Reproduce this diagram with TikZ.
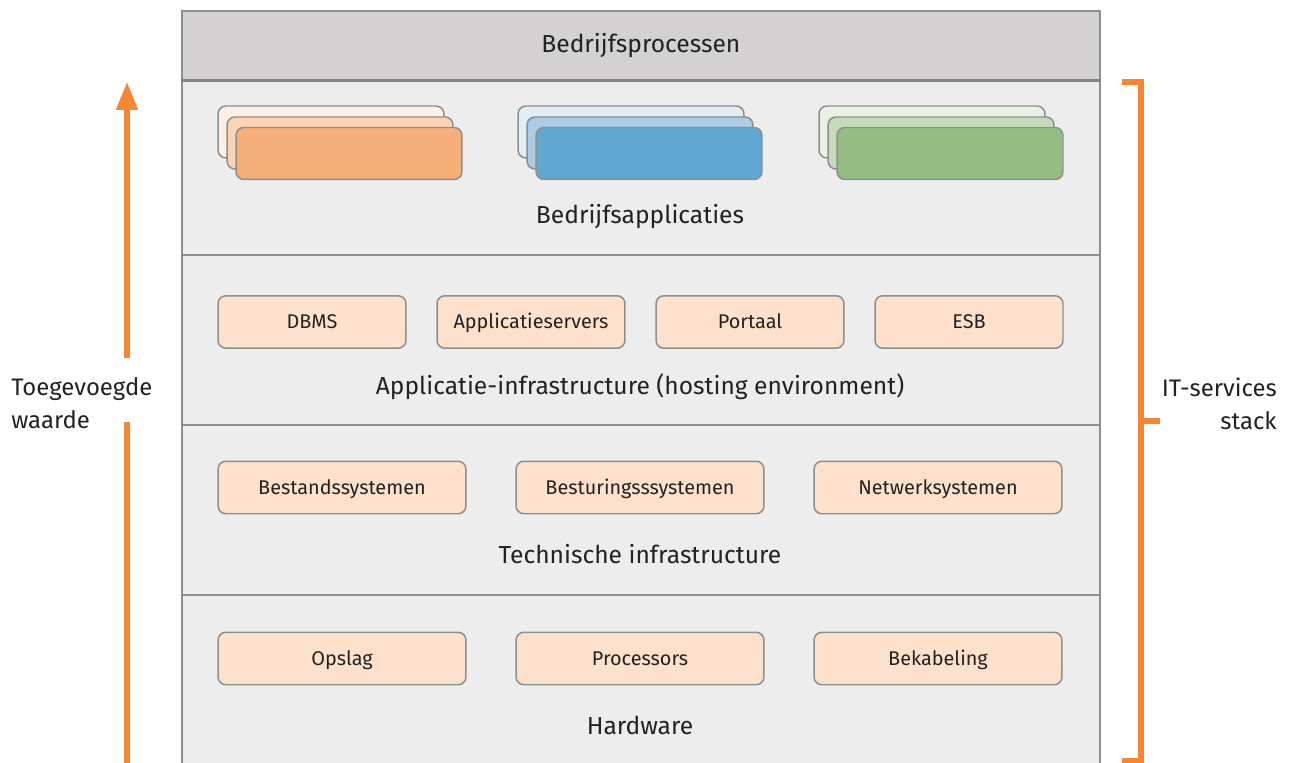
\documentclass[tikz,border=0pt]{standalone}
\usepackage{fontspec}
\setmainfont{Fira Sans}
\usepackage{tikz}
\usetikzlibrary{arrows.meta}
\definecolor{bandGray}{HTML}{D3D1D2}
\definecolor{layerGray}{HTML}{EDEDED}
\definecolor{lineGray}{HTML}{8E8E8E}
\definecolor{darkLine}{HTML}{858585}
\definecolor{boxFill}{HTML}{FDE1CC}
\definecolor{accent}{HTML}{F58634}
\definecolor{textDark}{HTML}{222222}
\definecolor{orangeA}{HTML}{FDEFE6}
\definecolor{orangeB}{HTML}{FDD3B5}
\definecolor{orangeC}{HTML}{F7AF7A}
\definecolor{blueA}{HTML}{E0EDF5}
\definecolor{blueB}{HTML}{AACCE4}
\definecolor{blueC}{HTML}{5FA8D1}
\definecolor{greenA}{HTML}{E9F1E4}
\definecolor{greenB}{HTML}{C6DBBA}
\definecolor{greenC}{HTML}{95BC83}
\tikzstyle{layerStyle}=[shape = rectangle, anchor = north west, inner sep = 0pt, minimum width = 18.36cm, fill = layerGray, draw = lineGray, line width = 1.1pt]
\tikzstyle{layerLabel}=[text = textDark, font = \fontsize{14}{16}\selectfont, inner sep = 0pt, text height = 1.6ex, text depth = 0.45ex]
\tikzstyle{compBox}=[shape = rectangle, rounded corners = 4.5pt, fill = boxFill, draw = lineGray, line width = 0.85pt, text = textDark, font = \fontsize{11.3}{13}\selectfont, minimum height = 1.05cm, inner sep = 0pt, text height = 1.6ex, text depth = 0.1ex]
\tikzstyle{appCard}=[shape = rectangle, rounded corners = 4.5pt, draw = lineGray, line width = 0.85pt, minimum width = 4.52cm, minimum height = 1.04cm, inner sep = 0pt]
\tikzstyle{sideText}=[text = textDark, font = \fontsize{13.6}{18.8}\selectfont, inner sep = 0pt]
\tikzstyle{orangeLine}=[draw = accent, line width = 2.9pt]

\begin{document}
\begin{tikzpicture}[x = 0.02cm, y = -0.02cm]
\clip (0,0) rectangle (1290,763);
\fill[white] (0,0) rectangle (1290,763);
\node[layerStyle, minimum height = 6.9cm] (hardware) at (181,594) {};
\node[layerStyle, minimum height = 3.4cm] (technisch) at (181,424) {};
\node[layerStyle, minimum height = 3.4cm] (applinfra) at (181,254) {};
\node[layerStyle, minimum height = 3.5cm] (apps) at (181,79) {};
\node[layerStyle, minimum height = 1.38cm, fill = bandGray, text = textDark, font = \fontsize{14}{16}\selectfont] (processen) at (181,10) {Bedrijfsprocessen};
\draw[draw = darkLine, line width = 1.7pt] (processen.south west) -- (processen.south east);
\node[appCard, fill = orangeA] (orange1) at (331,132) {};
\node[appCard, fill = orangeB] (orange2) at (340,143) {};
\node[appCard, fill = orangeC] (orange3) at (349,153.5) {};
\node[appCard, fill = blueA] (blue1) at (631,132) {};
\node[appCard, fill = blueB] (blue2) at (640,143) {};
\node[appCard, fill = blueC] (blue3) at (649,153.5) {};
\node[appCard, fill = greenA] (green1) at (932,132) {};
\node[appCard, fill = greenB] (green2) at (941,143) {};
\node[appCard, fill = greenC] (green3) at (950,153.5) {};
\node[layerLabel] (appsLabel) at (640,218) {Bedrijfsapplicaties};
\node[compBox, minimum width = 3.76cm] (dbms) at (312,322) {DBMS};
\node[compBox, minimum width = 3.76cm] (appservers) at (531,322) {Applicatieservers};
\node[compBox, minimum width = 3.76cm] (portaal) at (750,322) {Portaal};
\node[compBox, minimum width = 3.76cm] (esb) at (969,322) {ESB};
\node[layerLabel] (applinfraLabel) at (640,389) {Applicatie-infrastructure (hosting environment)};
\node[compBox, minimum width = 4.96cm] (bestand) at (342,487.5) {Bestandssystemen};
\node[compBox, minimum width = 4.96cm] (besturing) at (640,487.5) {Besturingsssystemen};
\node[compBox, minimum width = 4.96cm] (netwerk) at (938,487.5) {Netwerksystemen};
\node[layerLabel] (technischLabel) at (640,558) {Technische infrastructure};
\node[compBox, minimum width = 4.96cm] (opslag) at (342,658.5) {Opslag};
\node[compBox, minimum width = 4.96cm] (processors) at (640,658.5) {Processors};
\node[compBox, minimum width = 4.96cm] (bekabeling) at (938,658.5) {Bekabeling};
\node[layerLabel] (hardwareLabel) at (640,729) {Hardware};
\node[sideText, anchor = west, align = left] (waarde) at (11,403.5) {Toegevoegde\\waarde};
\node[sideText, anchor = east, align = right] (stack) at (1277,403.5) {IT-services\\stack};
\coordinate (arrowBottom) at (127,770);
\coordinate (arrowGapLow) at (127,422);
\coordinate (arrowGapHigh) at (127,358);
\coordinate (arrowTop) at (127,82);
\draw[orangeLine] (arrowBottom) -- (arrowGapLow);
\draw[orangeLine, -{Triangle[length = 0.56cm, width = 0.42cm]}] (arrowGapHigh) -- (arrowTop);
\coordinate (braceTopEnd) at (1122,82);
\coordinate (braceTop) at (1141,82);
\coordinate (braceBottom) at (1141,761);
\coordinate (braceBottomEnd) at (1122,761);
\coordinate (braceMid) at (1141,421);
\coordinate (braceTick) at (1160,421);
\draw[orangeLine] (braceTopEnd) -- (braceTop) -- (braceBottom) -- (braceBottomEnd);
\draw[orangeLine] (braceMid) -- (braceTick);
\end{tikzpicture}
\end{document}
